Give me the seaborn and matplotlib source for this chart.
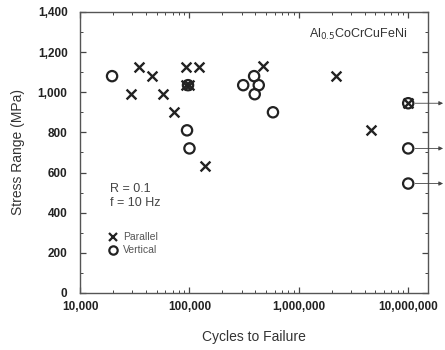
import matplotlib
matplotlib.use("Agg")
import matplotlib.pyplot as plt
import matplotlib.transforms as mtransforms
from matplotlib.lines import Line2D
from matplotlib.ticker import FixedLocator, FuncFormatter, LogLocator, MultipleLocator, NullFormatter
import seaborn as sns
import pandas as pd

# Data
parallel_cycles = [29400, 34700, 45700, 57700, 72600, 93000, 92000, 100000, 123000, 140000, 466000, 2190000, 4570000, 10000000]
parallel_stress = [990, 1125, 1080, 990, 900, 1125, 1035, 1035, 1125, 630, 1130, 1080, 810, 945]
vertical_cycles = [19600, 95000, 100000, 97000, 310000, 390000, 430000, 395000, 580000, 10000000, 10000000, 10000000]
vertical_stress = [1080, 810, 720, 1035, 1035, 1080, 1035, 990, 900, 945, 720, 545]
runout_stress = [945, 720, 545]
runout_cycles = 10000000
x_ticks = [1e4, 1e5, 1e6, 1e7]
y_ticks = [0, 200, 400, 600, 800, 1000, 1200, 1400]

sns.set_style("ticks")
plt.rcParams['font.family'] = ['Liberation Sans', 'DejaVu Sans']

fig = plt.figure(figsize=(4.45, 3.5), dpi=100)
ax = fig.add_axes([0.180, 0.163, 0.782, 0.803])

dfp = pd.DataFrame({"cycles": parallel_cycles, "stress": parallel_stress})
dfv = pd.DataFrame({"cycles": vertical_cycles, "stress": vertical_stress})

sns.scatterplot(data=dfp, x="cycles", y="stress", marker="x", s=50, color="#222222",
                linewidth=1.7, ax=ax, legend=False, zorder=3)
sns.scatterplot(data=dfv, x="cycles", y="stress", marker="o", s=55, facecolors="none",
                edgecolor="#222222", linewidth=1.6, ax=ax, legend=False, zorder=3)

ax.set_xscale("log")
ax.set_xlim(1e4, 1.52e7)
ax.set_ylim(0, 1400)

ax.xaxis.set_major_locator(FixedLocator(x_ticks))
ax.xaxis.set_major_formatter(FuncFormatter(lambda v, p: f"{int(round(v)):,}"))
ax.xaxis.set_minor_locator(LogLocator(base=10, subs=range(2, 10)))
ax.xaxis.set_minor_formatter(NullFormatter())
ax.yaxis.set_major_locator(FixedLocator(y_ticks))
ax.yaxis.set_major_formatter(FuncFormatter(lambda v, p: f"{int(round(v)):,}"))
ax.yaxis.set_minor_locator(MultipleLocator(100))

ax.tick_params(which="both", direction="in", top=True, right=True, color="#444444")
ax.tick_params(which="major", length=4, width=0.9, labelsize=8.5)
ax.tick_params(which="minor", length=2, width=0.7)
ax.tick_params(axis="x", which="major", pad=6)
ax.tick_params(axis="y", which="major", pad=9)
for lbl in ax.get_xticklabels() + ax.get_yticklabels():
    lbl.set_fontweight("bold")
    lbl.set_color("#222222")
for sp in ax.spines.values():
    sp.set_color("#555555")
    sp.set_linewidth(1.0)

ax.set_xlabel("Cycles to Failure", fontsize=10, color="#333333", labelpad=12)
ax.set_ylabel("Stress Range (MPa)", fontsize=10, color="#333333", labelpad=9)

# Run-out arrows
trans = mtransforms.blended_transform_factory(ax.transAxes, ax.transData)
for ys in runout_stress:
    ax.annotate("", xy=(1.043, ys), xycoords=trans, xytext=(runout_cycles, ys), textcoords="data",
                arrowprops=dict(arrowstyle="-|>", lw=0.6, color="#444444", shrinkA=5, shrinkB=0,
                                mutation_scale=6), annotation_clip=False)

ax.text(0.94, 0.918, r"Al$_{0.5}$CoCrCuFeNi", transform=ax.transAxes, ha="right", va="center",
        fontsize=9, color="#333333")
ax.text(0.085, 0.345, "R = 0.1\nf = 10 Hz", transform=ax.transAxes, ha="left", va="center",
        fontsize=9, color="#444444", linespacing=1.3)

handles = [Line2D([], [], marker="x", ls="none", color="#222222", markersize=6, mew=1.6),
           Line2D([], [], marker="o", ls="none", mfc="none", mec="#222222", markersize=6, mew=1.6)]
leg = ax.legend(handles, ["Parallel", "Vertical"], loc="center left", bbox_to_anchor=(0.06, 0.175),
                frameon=False, fontsize=7.5, handletextpad=0.4, labelspacing=0.3, handlelength=1.0,
                borderpad=0.2)
for t in leg.get_texts():
    t.set_color("#555555")

fig.savefig("out.png", dpi=100)
